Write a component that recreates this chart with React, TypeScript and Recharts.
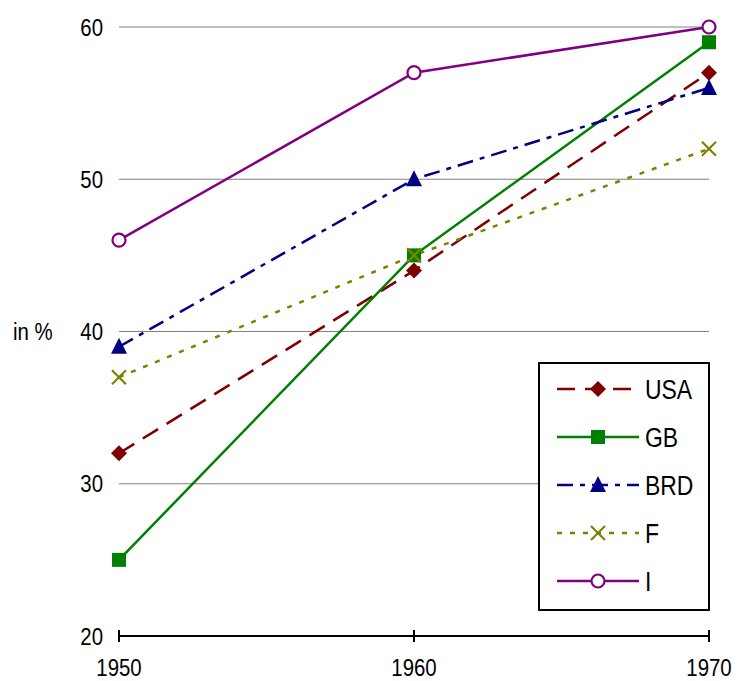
import { LineChart, Line, XAxis, YAxis, CartesianGrid, Legend, Label } from 'recharts'

const years = ['1950', '1960', '1970']
const usa = [32, 44, 57]
const gb = [25, 45, 59]
const brd = [39, 50, 56]
const fr = [37, 45, 52]
const it = [46, 57, 60]
const yTicks = [20, 30, 40, 50, 60]

const data = years.map((y, i) => ({ year: y, USA: usa[i], GB: gb[i], BRD: brd[i], F: fr[i], I: it[i] }))

const font = '"Liberation Sans", Arial, sans-serif'
// the original type is a condensed sans, so squeeze it a bit horizontally
const squeeze = 0.85

type MarkerKind = 'diamond' | 'square' | 'triangle' | 'cross' | 'circle'

const series: { key: string; color: string; dash?: string; marker: MarkerKind }[] = [
  { key: 'USA', color: '#800000', dash: '18 10', marker: 'diamond' },
  { key: 'GB', color: '#008000', marker: 'square' },
  { key: 'BRD', color: '#000080', dash: '16 7 5 7', marker: 'triangle' },
  { key: 'F', color: '#808000', dash: '5 8', marker: 'cross' },
  { key: 'I', color: '#800080', marker: 'circle' },
]

const Marker = ({ kind, cx, cy, color }: { kind: MarkerKind; cx: number; cy: number; color: string }) => {
  if (kind === 'diamond')
    return <polygon points={`${cx},${cy - 8} ${cx + 8},${cy} ${cx},${cy + 8} ${cx - 8},${cy}`} fill={color} />
  if (kind === 'square') return <rect x={cx - 7} y={cy - 7} width={14} height={14} fill={color} />
  if (kind === 'triangle')
    return <polygon points={`${cx},${cy - 9} ${cx + 8},${cy + 7} ${cx - 8},${cy + 7}`} fill={color} />
  if (kind === 'cross')
    return (
      <g stroke={color} strokeWidth={2.2}>
        <line x1={cx - 7} y1={cy - 7} x2={cx + 7} y2={cy + 7} />
        <line x1={cx - 7} y1={cy + 7} x2={cx + 7} y2={cy - 7} />
      </g>
    )
  return <circle cx={cx} cy={cy} r={6.5} fill="#fff" stroke={color} strokeWidth={2.2} />
}

const SText = ({ x, y, size, anchor, children }: { x: number; y: number; size: number; anchor: string; children: any }) => (
  <text
    transform={`translate(${x},${y}) scale(${squeeze},1)`}
    textAnchor={anchor}
    fontSize={size}
    fill="#000"
    fontFamily={font}
  >
    {children}
  </text>
)

const XTick = (props: any) => {
  const { x, y, payload } = props
  return (
    <g>
      <line x1={x} x2={x} y1={y - 6} y2={y + 6} stroke="#000" strokeWidth={2} />
      <SText x={x} y={y + 40} size={24} anchor="middle">
        {payload.value}
      </SText>
    </g>
  )
}

const YTick = (props: any) => {
  const { x, y, payload } = props
  return (
    <SText x={x} y={y + 8.5} size={24} anchor="end">
      {payload.value}
    </SText>
  )
}

const LegendBox = () => (
  <div style={{ width: 168, height: 245, border: '2px solid #000', background: '#fff' }}>
    <svg width={168} height={245}>
      {series.map((s, i) => {
        const cy = 25 + i * 48
        return (
          <g key={s.key}>
            <line x1={17} x2={99} y1={cy} y2={cy} stroke={s.color} strokeWidth={2.5} strokeDasharray={s.dash} />
            <Marker kind={s.marker} cx={58} cy={cy} color={s.color} />
            <SText x={105} y={cy + 10} size={27} anchor="start">
              {s.key}
            </SText>
          </g>
        )
      })}
    </svg>
  </div>
)

export default function App() {
  return (
    <div style={{ position: 'absolute', left: 0, top: 0, background: '#fff' }}>
      <LineChart width={738} height={681} data={data} margin={{ top: 27, right: 29, bottom: 0, left: 0 }}>
        <CartesianGrid vertical={false} stroke="#808080" strokeWidth={1} />
        <XAxis
          dataKey="year"
          height={45}
          axisLine={{ stroke: '#000', strokeWidth: 2 }}
          tickLine={false}
          tickSize={0}
          tickMargin={0}
          tick={<XTick />}
          interval={0}
        />
        <YAxis
          width={119}
          domain={[20, 60]}
          ticks={yTicks}
          axisLine={false}
          tickLine={false}
          tickSize={6}
          tickMargin={10}
          tick={<YTick />}
        >
          <Label
            value="in %"
            content={(p: any) => (
              <SText x={13} y={p.viewBox.y + p.viewBox.height / 2 + 8.5} size={24} anchor="start">
                in %
              </SText>
            )}
          />
        </YAxis>
        <Legend
          layout="vertical"
          align="center"
          verticalAlign="middle"
          content={<LegendBox />}
          wrapperStyle={{ position: 'absolute', left: 538, top: 362, width: 172, height: 249 }}
        />
        {series.map((s) => (
          <Line
            key={s.key}
            dataKey={s.key}
            stroke={s.color}
            strokeWidth={2.5}
            strokeDasharray={s.dash}
            isAnimationActive={false}
            dot={(p: any) => <Marker key={`${s.key}-${p.index}`} kind={s.marker} cx={p.cx} cy={p.cy} color={s.color} />}
            activeDot={false}
          />
        ))}
      </LineChart>
    </div>
  )
}
